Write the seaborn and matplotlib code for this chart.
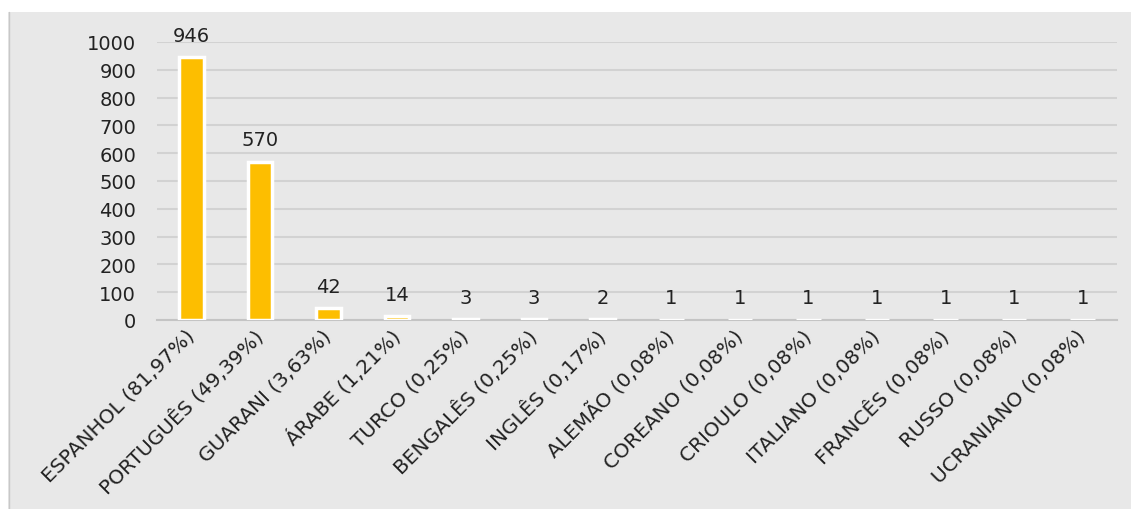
import matplotlib
matplotlib.use("Agg")
import matplotlib.pyplot as plt
import seaborn as sns
import pandas as pd
import numpy as np
from matplotlib.patches import Rectangle
from matplotlib.lines import Line2D

categories = ["ESPANHOL (81,97%)", "PORTUGUÊS (49,39%)", "GUARANI (3,63%)", "ÁRABE (1,21%)",
              "TURCO (0,25%)", "BENGALÊS (0,25%)", "INGLÊS (0,17%)", "ALEMÃO (0,08%)",
              "COREANO (0,08%)", "CRIOULO (0,08%)", "ITALIANO (0,08%)", "FRANCÊS (0,08%)",
              "RUSSO (0,08%)", "UCRANIANO (0,08%)"]
values = [946, 570, 42, 14, 3, 3, 2, 1, 1, 1, 1, 1, 1, 1]
yticks = [0, 100, 200, 300, 400, 500, 600, 700, 800, 900, 1000]

df = pd.DataFrame({"cat": categories, "val": values})

sns.set_style("white")
plt.rcParams["font.family"] = ["DejaVu Sans"]

W, H = 1131, 510
fig = plt.figure(figsize=(W / 100, H / 100), dpi=100)
fig.patch.set_facecolor("white")
bg = "#e8e8e8"
fig.patches.append(Rectangle((8 / W, 0), 1 - 8 / W, (H - 13) / H, transform=fig.transFigure,
                             facecolor=bg, edgecolor="none", zorder=-5))
fig.lines.append(Line2D([8.5 / W, 8.5 / W], [0, (H - 13) / H], transform=fig.transFigure,
                        color="#c8c8c8", linewidth=1, zorder=-4))

ax = fig.add_axes([157 / W, (H - 321) / H, (1117 - 157) / W, (321 - 43) / H])
ax.set_facecolor(bg)
sns.barplot(data=df, x="cat", y="val", ax=ax, color="#FDBE00", saturation=1,
            width=0.36, edgecolor="white", linewidth=2.5, zorder=3)

ax.set_ylim(0, 1000)
ax.set_xlim(-0.5, len(categories) - 0.5)
ax.set_yticks(yticks)
ax.yaxis.grid(True, color="#d2d2d2", linewidth=1.5, zorder=0)
ax.set_axisbelow(True)
for s in ["top", "right", "left"]:
    ax.spines[s].set_visible(False)
ax.spines["bottom"].set_color("#c4c4c4")
ax.spines["bottom"].set_linewidth(1.5)
ax.set_xlabel("")
ax.set_ylabel("")
ax.tick_params(axis="y", length=0, pad=15, labelsize=14, labelcolor="#222222")
ax.set_xticks(np.arange(-0.5, len(categories), 1.0), minor=True)
ax.tick_params(axis="x", which="minor", length=6, color="#c4c4c4", width=1.2)
ax.tick_params(axis="x", which="major", length=0, pad=9)
ax.set_xticks(range(len(categories)))
ax.set_xticklabels(categories, rotation=45, ha="right", va="center",
                   rotation_mode="anchor", fontsize=14.5, color="#222222")

for i, v in enumerate(values):
    ax.annotate(str(v), (i, v), xytext=(0, 9), textcoords="offset points",
                ha="center", va="bottom", fontsize=14, color="#222222",
                annotation_clip=False)

fig.savefig("out.png", dpi=100, facecolor="white")
